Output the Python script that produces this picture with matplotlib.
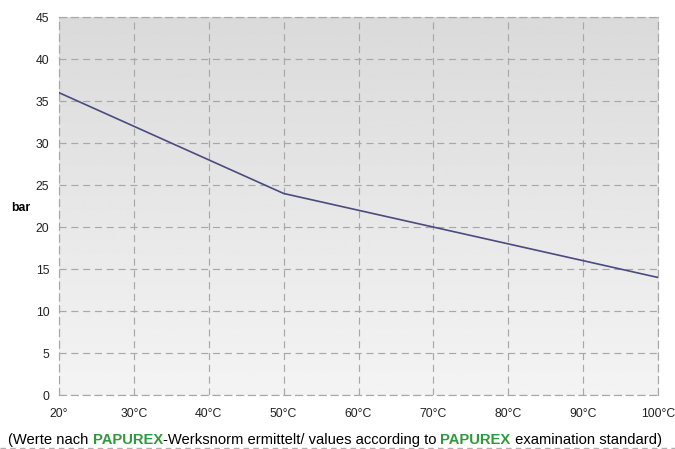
import numpy as np
import matplotlib.pyplot as plt
from matplotlib.lines import Line2D

# data
temps = [20, 30, 40, 50, 60, 70, 80, 90, 100]
pressure_bar = [36, 32, 28, 24, 22, 20, 18, 16, 14]
x_labels = ['20°', '30°C', '40°C', '50°C', '60°C', '70°C', '80°C', '90°C', '100°C']
y_ticks = [0, 5, 10, 15, 20, 25, 30, 35, 40, 45]

plt.rcParams['font.family'] = ['Liberation Sans', 'DejaVu Sans']

fig = plt.figure(figsize=(6.75, 4.49), dpi=100)
ax = fig.add_axes([0.0874, 0.120, 0.8876, 0.842])

# vertical grey gradient background (darker on top), row 0 is drawn at the top
grad = np.linspace(0.855, 0.955, 256).reshape(-1, 1)
ax.imshow(grad, cmap='gray', vmin=0, vmax=1, aspect='auto',
          extent=[0, 1, 0, 1], transform=ax.transAxes, zorder=0)

ax.plot(temps, pressure_bar, color='#4b4b7e', linewidth=1.2, zorder=3)

ax.set_xlim(20, 100)
ax.set_ylim(0, 45)
ax.set_xticks(temps)
ax.set_xticklabels(x_labels)
ax.set_yticks(y_ticks)
ax.tick_params(length=0, labelsize=8.8, colors='#222222')
ax.tick_params(axis='x', pad=9)
ax.tick_params(axis='y', pad=7)
ax.grid(True, color='#a8a8a8', linestyle=(0, (6, 4)), linewidth=0.85)
ax.set_axisbelow(False)
for side in ['top', 'right', 'bottom', 'left']:
    ax.spines[side].set_linestyle((0, (6, 4)))
    ax.spines[side].set_color('#a8a8a8')
    ax.spines[side].set_linewidth(0.85)

fig.text(0.030, 0.537, 'bar', fontsize=8.8, fontweight='bold', ha='center', va='center')

# footnote with green brand name (bold)
green = '#2f9a3c'
fsize = 10.6
parts = [('(Werte nach ', 'black', 'normal'), ('PAPUREX', green, 'bold'),
         ('-Werksnorm ermittelt/ values according to ', 'black', 'normal'),
         ('PAPUREX', green, 'bold'), (' examination standard)', 'black', 'normal')]
prev = fig.text(0.012, 0.011, parts[0][0], fontsize=fsize, color=parts[0][1], va='baseline')
for txt, col, wt in parts[1:]:
    prev = ax.annotate(txt, xy=(1, 0), xycoords=prev, fontsize=fsize, color=col,
                       fontweight=wt, va='bottom', ha='left', annotation_clip=False)

fig.add_artist(Line2D([0.0, 1.0], [0.003, 0.003], transform=fig.transFigure,
                      color='#b0b0b0', linestyle=(0, (4, 3)), linewidth=1.0))

fig.savefig('out.png', dpi=100)
